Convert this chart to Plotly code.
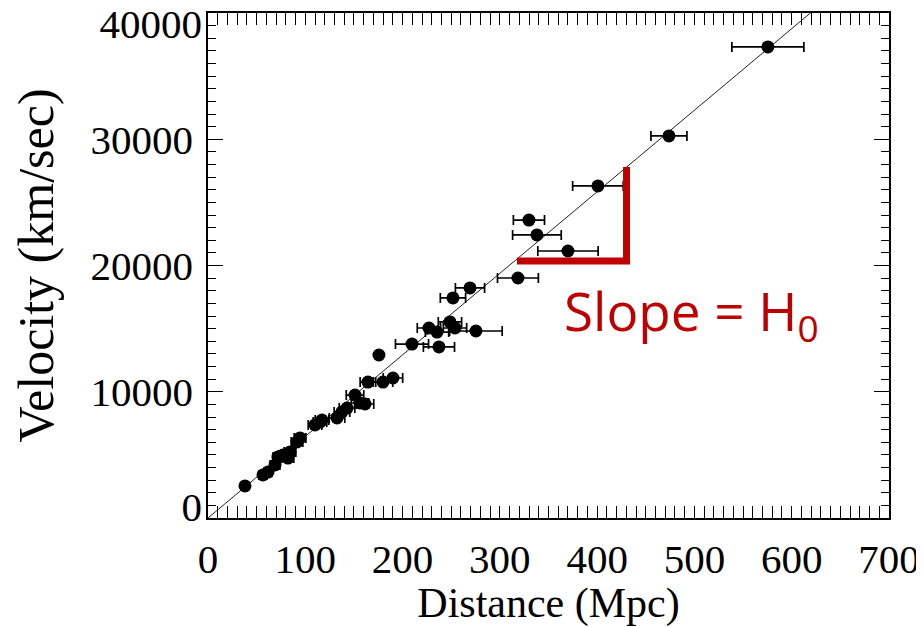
import plotly.graph_objects as go

# Galaxy distances (Mpc), velocities (km/s) and distance uncertainties (Mpc)
distance = [38.0, 56.5, 61.7, 68.9, 71.9, 77.1, 82.2, 84.3, 91.5, 94.6,
            110.0, 115.1, 117.2, 132.6, 137.7, 142.9, 151.1, 156.2, 161.4, 164.4,
            175.7, 179.9, 190.1, 209.7, 227.1, 235.4, 237.4, 248.7, 253.9, 251.8,
            269.3, 275.4, 318.6, 329.9, 338.1, 370.0, 400.8, 473.8, 575.5]
velocity = [2540, 3410, 3640, 4200, 4830, 4990, 4750, 5230, 6020, 6340,
            7370, 7600, 7760, 7920, 8400, 8710, 9740, 9110, 9030, 10770,
            12910, 10770, 11090, 13780, 15050, 14730, 13550, 15530, 15050, 17430,
            18220, 14810, 19010, 23600, 22420, 21150, 26300, 30260, 37310]
dist_err = [3, 4, 4, 5, 5, 5, 6, 6, 6, 6,
            7, 7, 7, 8, 8, 8, 9, 9, 9, 8,
            3, 10, 10, 17, 12, 12, 16, 12, 12, 13,
            15, 27, 21, 16, 25, 31, 26, 18.5, 37]

# Hubble constant of the fitted line (km/s/Mpc) and its drawn range
H0 = 64.6
fit_x = [0, 700]
fit_y = [H0 * v for v in fit_x]

# Slope triangle ("L") annotation corners
slope_x = [317.6, 430.2, 430.2]
slope_y = [20356, 20356, 27800]

x_ticks = [0, 100, 200, 300, 400, 500, 600, 700]
y_ticks = [0, 10000, 20000, 30000, 40000]
y_inner_labels = ["", "10000", "20000", "30000", ""]

fig = go.Figure()

fig.add_trace(go.Scatter(
    x=fit_x, y=fit_y, mode="lines",
    line=dict(color="#222222", width=1), hoverinfo="skip", showlegend=False))

fig.add_trace(go.Scatter(
    x=distance, y=velocity, mode="markers",
    marker=dict(color="black", size=13, line=dict(width=0)),
    error_x=dict(type="data", array=dist_err, visible=True,
                 color="black", thickness=1.7, width=5),
    showlegend=False))

fig.add_trace(go.Scatter(
    x=slope_x, y=slope_y, mode="lines",
    line=dict(color="#C00000", width=7), hoverinfo="skip", showlegend=False))

# empty traces so the edge-label axes are attached
fig.add_trace(go.Scatter(x=[], y=[], yaxis="y2", showlegend=False))
fig.add_trace(go.Scatter(x=[], y=[], yaxis="y3", showlegend=False))

fig.add_annotation(
    x=slope_x[0] + 46, y=16200, xref="x", yref="y",
    text="Slope = H<sub>0</sub>", showarrow=False,
    xanchor="left", yanchor="middle",
    font=dict(family="Open Sans", size=53, color="#C00000"))

tick_font = dict(family="Liberation Serif", size=41, color="black")

fig.update_xaxes(
    range=[0, 700], tickvals=x_ticks, ticktext=[str(v) for v in x_ticks],
    ticks="inside", ticklen=12, tickwidth=1.2, tickcolor="black",
    minor=dict(dtick=10, ticks="inside", ticklen=6, tickcolor="black", tickwidth=1),
    showline=True, linecolor="black", linewidth=1.5, mirror="allticks",
    showgrid=False, zeroline=False, tickfont=tick_font, automargin=False,
    ticklabelstandoff=4,
    title=dict(text="Distance (Mpc)",
               font=dict(family="Liberation Serif", size=42, color="black"),
               standoff=0))

fig.update_layout(
    yaxis=dict(
        range=[0, 40000], tickvals=y_ticks, ticktext=y_inner_labels,
        ticks="inside", ticklen=15, tickwidth=1.2, tickcolor="black",
        minor=dict(dtick=1000, ticks="inside", ticklen=8, tickcolor="black", tickwidth=1),
        showline=True, linecolor="black", linewidth=1.5, mirror="allticks",
        showgrid=False, zeroline=False, tickfont=tick_font, automargin=False,
        ticklabelstandoff=5,
        title=dict(text="Velocity (km/sec)",
                   font=dict(family="Liberation Serif", size=50, color="black"),
                   standoff=30)),
    yaxis2=dict(
        overlaying="y", side="left", range=[0, 40000],
        tickvals=[y_ticks[-1]], ticktext=[str(y_ticks[-1])], automargin=False,
        ticklabelshift=11, ticklabeloverflow="allow", ticks="", showline=False,
        showgrid=False, zeroline=False, tickfont=tick_font, ticklabelstandoff=5),
    yaxis3=dict(
        overlaying="y", side="left", range=[0, 40000],
        tickvals=[y_ticks[0]], ticktext=[str(y_ticks[0])], automargin=False,
        ticklabelshift=-11, ticklabeloverflow="allow", ticks="", showline=False,
        showgrid=False, zeroline=False, tickfont=tick_font, ticklabelstandoff=5),
    width=916, height=619,
    margin=dict(l=200, r=35, t=5, b=109, pad=0),
    plot_bgcolor="white", paper_bgcolor="white",
    showlegend=False)

fig.write_html("out.html")
